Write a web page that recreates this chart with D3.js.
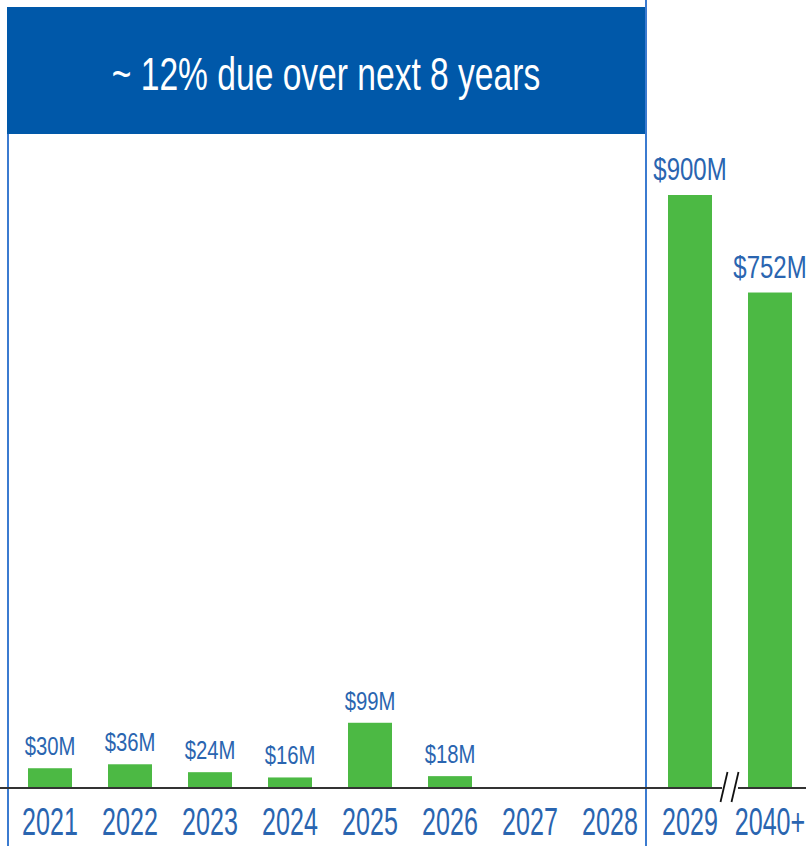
<!DOCTYPE html>
<html>
<head>
<meta charset="utf-8">
<script src="https://cdn.jsdelivr.net/npm/d3@7"></script>
<style>
  body { margin: 0; background: #fff; }
  text { font-family: "Liberation Sans", Arial, sans-serif; }
</style>
</head>
<body>
<script>
const WIDTH = 806;
const HEIGHT = 846;
const BASELINE = 788;
const TOP_AT_MAX = 195;

const years = ["2021", "2022", "2023", "2024", "2025", "2026", "2027", "2028", "2029", "2040+"];
const amounts = [30, 36, 24, 16, 99, 18, null, null, 900, 752];
const amountLabels = ["$30M", "$36M", "$24M", "$16M", "$99M", "$18M", "", "", "$900M", "$752M"];
const headline = "~ 12% due over next 8 years";
const laterYears = ["2029", "2040+"];

const BLUE_BOX = "#0058a9";
const LINE_BLUE = "#3b7bd0";
const TEXT_BLUE = "#2a65b0";
const GREEN = "#4cb944";

const data = years.map((y, i) => ({ year: y, value: amounts[i], label: amountLabels[i] }));

const svg = d3.select("body").append("svg")
  .attr("width", WIDTH)
  .attr("height", HEIGHT);

const xScale = d3.scaleBand()
  .domain(years)
  .range([10, 810])
  .paddingInner(0.45)
  .paddingOuter(0.225);

const yScale = d3.scaleLinear()
  .domain([0, 900])
  .range([BASELINE, TOP_AT_MAX]);

// header box covering the next 8 years
svg.append("rect")
  .attr("x", 7)
  .attr("y", 7)
  .attr("width", 639)
  .attr("height", 127)
  .attr("fill", BLUE_BOX);

// the text in the original is a condensed face, so squeeze it horizontally
svg.append("text")
  .attr("transform", "translate(326,90) scale(0.73,1)")
  .attr("text-anchor", "middle")
  .attr("fill", "#fff")
  .attr("font-size", 46)
  .text(headline);

// outline of the box going down
svg.append("line")
  .attr("x1", 8).attr("x2", 8)
  .attr("y1", 134).attr("y2", HEIGHT)
  .attr("stroke", LINE_BLUE).attr("stroke-width", 2);

svg.append("line")
  .attr("x1", 646).attr("x2", 646)
  .attr("y1", 0).attr("y2", HEIGHT)
  .attr("stroke", LINE_BLUE).attr("stroke-width", 2);

// bars
svg.append("g")
  .selectAll("rect")
  .data(data.filter(d => d.value != null))
  .join("rect")
  .attr("x", d => xScale(d.year))
  .attr("y", d => yScale(d.value))
  .attr("width", xScale.bandwidth())
  .attr("height", d => yScale(0) - yScale(d.value))
  .attr("fill", GREEN);

// value labels (the two big ones are set a bit larger)
svg.append("g")
  .selectAll("text")
  .data(data.filter(d => d.value != null))
  .join("text")
  .attr("transform", d => {
    const big = laterYears.includes(d.year);
    const cx = xScale(d.year) + xScale.bandwidth() / 2;
    return `translate(${cx},${yScale(d.value) - (big ? 15 : 13)}) scale(${big ? 0.75 : 0.78},1)`;
  })
  .attr("text-anchor", "middle")
  .attr("fill", TEXT_BLUE)
  .attr("font-size", d => laterYears.includes(d.year) ? 32 : 26)
  .text(d => d.label);

// x axis
const xAxis = d3.axisBottom(xScale).tickSize(0);
const axisG = svg.append("g")
  .attr("transform", `translate(0,${BASELINE})`)
  .call(xAxis);
axisG.select(".domain").remove();
axisG.selectAll("text")
  .attr("y", 47)
  .attr("dy", 0)
  .attr("transform", "scale(0.66,1)")
  .attr("fill", TEXT_BLUE)
  .attr("font-size", 38)
  .style("font-family", "Liberation Sans, Arial, sans-serif");

svg.append("line")
  .attr("x1", 0).attr("x2", WIDTH)
  .attr("y1", BASELINE).attr("y2", BASELINE)
  .attr("stroke", "#333").attr("stroke-width", 2);

// axis break marks between 2029 and 2040+
const breakX = (xScale("2029") + xScale.bandwidth() + xScale("2040+")) / 2;
svg.append("rect")
  .attr("x", breakX - 8).attr("y", BASELINE - 2)
  .attr("width", 16).attr("height", 4)
  .attr("fill", "#fff");
[-5.5, 5.5].forEach(dx => {
  svg.append("line")
    .attr("x1", breakX + dx - 4).attr("y1", BASELINE + 14)
    .attr("x2", breakX + dx + 3).attr("y2", BASELINE - 16)
    .attr("stroke", "#111").attr("stroke-width", 1.8);
});
</script>
</body>
</html>
